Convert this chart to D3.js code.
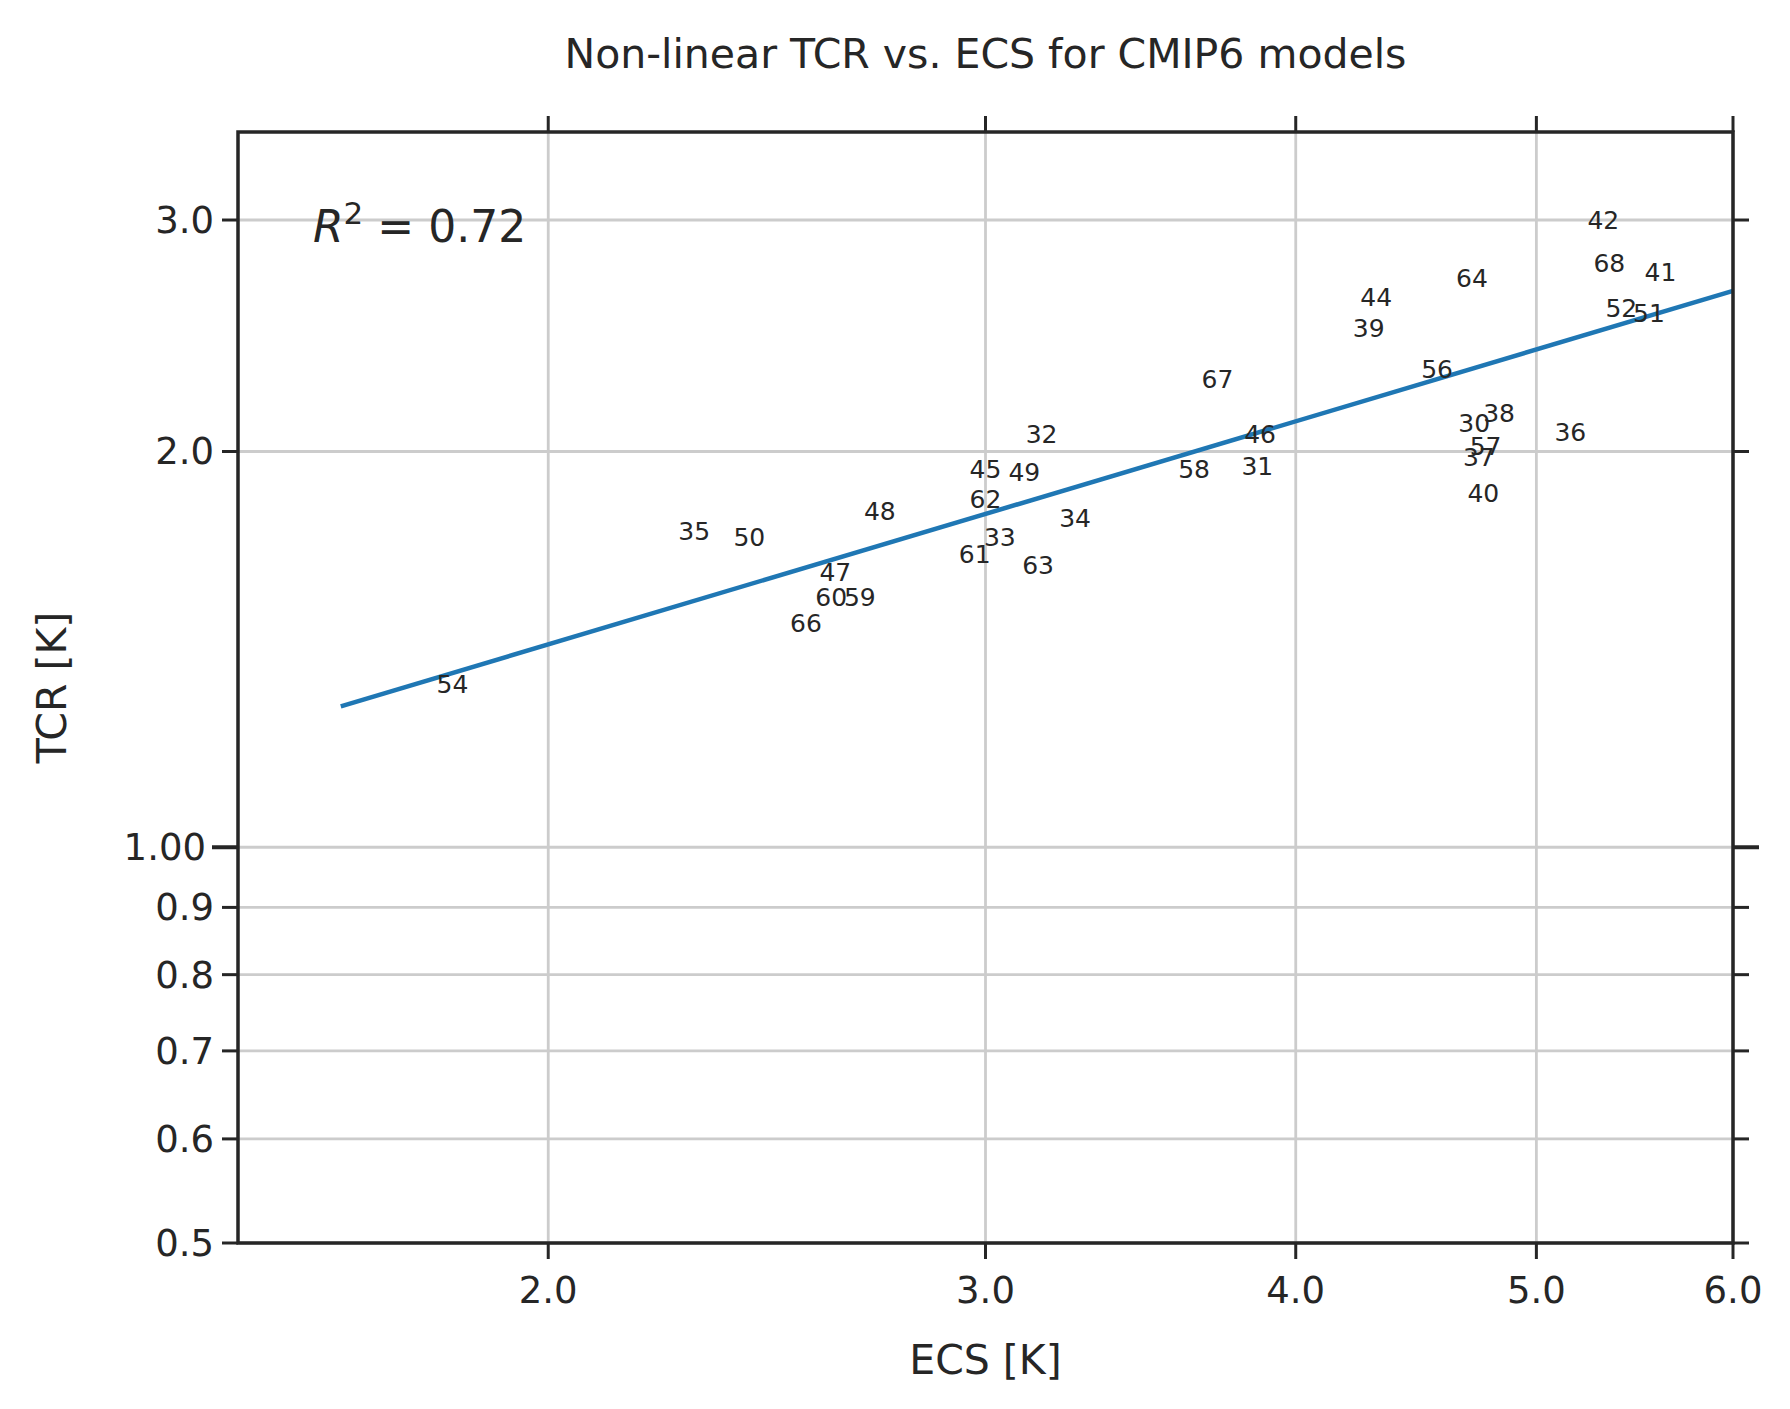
<!DOCTYPE html>
<html><head><meta charset="utf-8">
<script src="https://cdn.jsdelivr.net/npm/d3@7"></script>
<style>body{margin:0;background:#fff}text{font-family:"DejaVu Sans",sans-serif;fill:#262626}</style>
</head><body><div id="chart"></div>
<script>
// model labels with ECS / TCR values
var models = ["42","68","41","64","44","39","52","51","56","67","38","30","36","32","46","57","37","45","49","58","31","40","62","48","34","35","50","33","61","63","47","60","59","66","54"];
var ecs = [5.32,5.35,5.61,4.71,4.31,4.28,5.41,5.55,4.56,3.72,4.83,4.72,5.16,3.16,3.87,4.77,4.74,3.0,3.11,3.64,3.86,4.76,3.0,2.72,3.26,2.29,2.41,3.04,2.97,3.15,2.61,2.60,2.67,2.54,1.83];
var tcr = [3.0,2.78,2.74,2.71,2.62,2.48,2.57,2.55,2.31,2.27,2.14,2.10,2.07,2.06,2.06,2.02,1.98,1.94,1.93,1.94,1.95,1.86,1.84,1.80,1.78,1.74,1.72,1.72,1.67,1.64,1.62,1.55,1.55,1.48,1.33];
var fitEcs = [1.65, 6.0];
var fitTcr = [1.28, 2.65];
var xTicks = [2, 3, 4, 5, 6];
var yMajor = [1.0];
var yMinor = [0.5, 0.6, 0.7, 0.8, 0.9, 2.0, 3.0];

var W = 1790, H = 1409;
var m = {l: 238, r: 1733, t: 132, b: 1243};
var svg = d3.select("#chart").append("svg").attr("width", W).attr("height", H);
var x = d3.scaleLog().domain([1.5, 6.0]).range([m.l, m.r]);
var y = d3.scaleLog().domain([0.5, 3.5]).range([m.b, m.t]);

var grid = svg.append("g").attr("stroke", "#cccccc").attr("stroke-width", 2.8);
xTicks.forEach(function (d) {
    grid.append("line").attr("x1", x(d)).attr("x2", x(d)).attr("y1", m.t).attr("y2", m.b);
});
yMajor.concat(yMinor).forEach(function (d) {
    grid.append("line").attr("x1", m.l).attr("x2", m.r).attr("y1", y(d)).attr("y2", y(d));
});

// fit line
var line = d3.line().x(function (d) { return x(d[0]); }).y(function (d) { return y(d[1]); });
svg.append("path").datum(d3.zip(fitEcs, fitTcr)).attr("d", line)
    .attr("fill", "none").attr("stroke", "#1f77b4").attr("stroke-width", 4.5);

// labels
svg.append("g").selectAll("text").data(models).enter().append("text")
    .attr("x", function (d, i) { return x(ecs[i]); })
    .attr("y", function (d, i) { return y(tcr[i]); })
    .attr("text-anchor", "middle").attr("dy", "0.35em")
    .attr("font-size", 25).text(function (d) { return d; });

// frame
svg.append("rect").attr("x", m.l).attr("y", m.t).attr("width", m.r - m.l).attr("height", m.b - m.t)
    .attr("fill", "none").attr("stroke", "#262626").attr("stroke-width", 3.5);

var ax = svg.append("g").attr("stroke", "#262626").attr("stroke-width", 3);
xTicks.forEach(function (d) {
    ax.append("line").attr("x1", x(d)).attr("x2", x(d)).attr("y1", m.b).attr("y2", m.b + 16);
    ax.append("line").attr("x1", x(d)).attr("x2", x(d)).attr("y1", m.t).attr("y2", m.t - 16);
    svg.append("text").attr("x", x(d)).attr("y", m.b + 60).attr("text-anchor", "middle")
        .attr("font-size", 37).text(d3.format(".1f")(d));
});
yMinor.forEach(function (d) {
    ax.append("line").attr("x1", m.l).attr("x2", m.l - 16).attr("y1", y(d)).attr("y2", y(d));
    ax.append("line").attr("x1", m.r).attr("x2", m.r + 16).attr("y1", y(d)).attr("y2", y(d));
    svg.append("text").attr("x", m.l - 24).attr("y", y(d)).attr("dy", "0.35em").attr("text-anchor", "end")
        .attr("font-size", 37).text(d3.format(".1f")(d));
});
yMajor.forEach(function (d) {
    ax.append("line").attr("x1", m.l).attr("x2", m.l - 26).attr("y1", y(d)).attr("y2", y(d)).attr("stroke-width", 4);
    ax.append("line").attr("x1", m.r).attr("x2", m.r + 26).attr("y1", y(d)).attr("y2", y(d)).attr("stroke-width", 4);
    svg.append("text").attr("x", m.l - 32).attr("y", y(d)).attr("dy", "0.35em").attr("text-anchor", "end")
        .attr("font-size", 37).text(d3.format(".2f")(d));
});

svg.append("text").attr("x", (m.l + m.r) / 2).attr("y", 68).attr("text-anchor", "middle")
    .attr("font-size", 41).text("Non-linear TCR vs. ECS for CMIP6 models");
svg.append("text").attr("x", (m.l + m.r) / 2).attr("y", 1374).attr("text-anchor", "middle")
    .attr("font-size", 41).text("ECS [K]");
svg.append("text").attr("transform", "translate(66," + (m.t + m.b) / 2 + ") rotate(-90)")
    .attr("text-anchor", "middle").attr("font-size", 41).text("TCR [K]");

var r2 = svg.append("text").attr("x", 313).attr("y", 242).attr("font-size", 44);
r2.append("tspan").attr("font-style", "italic").text("R");
r2.append("tspan").attr("dy", -18).attr("font-size", 31).text("2");
r2.append("tspan").attr("dy", 18).text(" = 0.72");
</script></body></html>
